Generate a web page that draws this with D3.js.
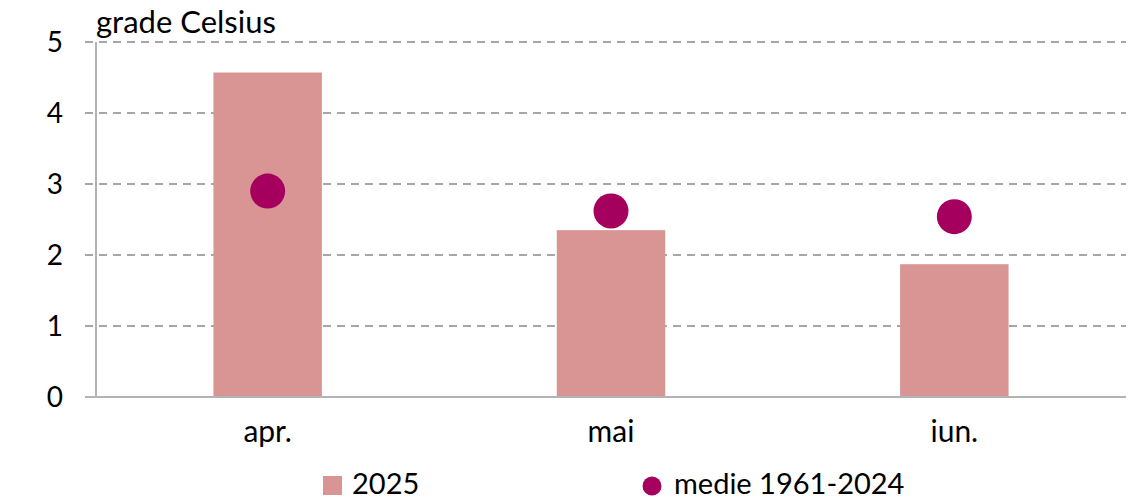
<!DOCTYPE html>
<html>
<head>
<meta charset="utf-8">
<script src="https://cdn.jsdelivr.net/npm/d3@7"></script>
<style>
    body { margin: 0; background: #fff; }
    text { font-family: Lato, "Open Sans", sans-serif; fill: #000; }
</style>
</head>
<body>
<div id="chart"></div>
<script>
// data
const months = ["apr.", "mai", "iun."];
const values2025 = [4.57, 2.35, 1.87];
const valuesNormal = [2.90, 2.62, 2.54];
const yTicks = [0, 1, 2, 3, 4, 5];
const unitLabel = "grade Celsius";
const seriesNames = ["2025", "medie 1961-2024"];

const width = 1128,
    height = 501;
var margin = { top: 42, right: 2, bottom: 104, left: 96 };
var innerW = width - margin.left - margin.right,
    innerH = height - margin.top - margin.bottom;

const barColor = "#d99594",
    dotColor = "#a6005f",
    gridColor = "#a6a6a6",
    axisColor = "#b3b3b3";

var svg = d3.select("#chart")
    .append("svg")
    .attr("width", width)
    .attr("height", height);

var g = svg.append("g")
    .attr("transform", "translate(" + margin.left + "," + margin.top + ")");

var x = d3.scaleBand()
    .domain(months)
    .range([0, innerW])
    .paddingInner(0.684)
    .paddingOuter(0.342);

var y = d3.scaleLinear()
    .domain([0, 5])
    .range([innerH, 0]);

// horizontal dashed grid
g.append("g")
    .selectAll("line")
    .data(yTicks.filter(d => d > 0))
    .enter()
    .append("line")
    .attr("x1", -11)
    .attr("x2", innerW)
    .attr("y1", d => Math.round(y(d)))
    .attr("y2", d => Math.round(y(d)))
    .style("stroke", gridColor)
    .style("stroke-width", 2)
    .style("stroke-dasharray", "8,6");

// y axis labels
var yAxis = g.append("g")
    .call(d3.axisLeft(y).tickValues(yTicks).tickSize(0).tickPadding(33).tickFormat(d3.format("d")));
yAxis.select(".domain").remove();
yAxis.selectAll("text")
    .style("font-size", "28px")
    .style("font-family", "Lato, sans-serif")
    .attr("dy", "0.35em");

// bars
g.selectAll(".bar")
    .data(values2025)
    .enter()
    .append("rect")
    .attr("class", "bar")
    .attr("x", (d, i) => x(months[i]))
    .attr("width", x.bandwidth())
    .attr("y", d => y(d))
    .attr("height", d => y(0) - y(d))
    .style("fill", barColor);

// vertical axis line and baseline
g.append("line")
    .attr("x1", 0).attr("x2", 0)
    .attr("y1", y(5)).attr("y2", y(0))
    .style("stroke", axisColor)
    .style("stroke-width", 2);
g.append("line")
    .attr("x1", -11).attr("x2", innerW)
    .attr("y1", y(0)).attr("y2", y(0))
    .style("stroke", axisColor)
    .style("stroke-width", 2);

// dots for long-term average
g.selectAll(".dot")
    .data(valuesNormal)
    .enter()
    .append("circle")
    .attr("class", "dot")
    .attr("cx", (d, i) => x(months[i]) + x.bandwidth() / 2)
    .attr("cy", d => y(d))
    .attr("r", 17.5)
    .style("fill", dotColor);

// x labels
g.selectAll(".xlab")
    .data(months)
    .enter()
    .append("text")
    .attr("class", "xlab")
    .attr("x", d => x(d) + x.bandwidth() / 2)
    .attr("y", innerH + 45)
    .attr("text-anchor", "middle")
    .style("font-size", "30px")
    .text(d => d);

// unit label
svg.append("text")
    .attr("x", 96)
    .attr("y", 33)
    .style("font-size", "31px")
    .text(unitLabel);

// legend
var legend = svg.append("g");
legend.append("rect")
    .attr("x", 323).attr("y", 476)
    .attr("width", 19).attr("height", 19)
    .style("fill", barColor);
legend.append("text")
    .attr("x", 352).attr("y", 494)
    .style("font-size", "29px")
    .text(seriesNames[0]);
legend.append("circle")
    .attr("cx", 652).attr("cy", 486)
    .attr("r", 9.5)
    .style("fill", dotColor);
legend.append("text")
    .attr("x", 674).attr("y", 494)
    .style("font-size", "29px")
    .text(seriesNames[1]);
</script>
</body>
</html>
